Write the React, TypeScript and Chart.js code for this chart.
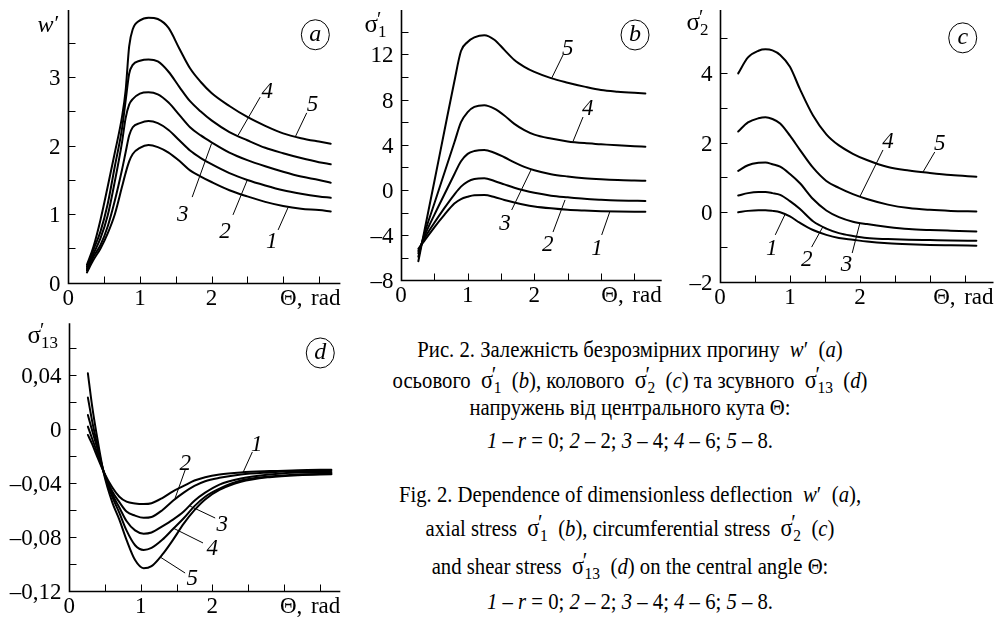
import React, { useEffect, useRef } from "react";
import { Chart, registerables } from "chart.js";

Chart.register(...registerables);

const SERIF = '"Liberation Serif", "Times New Roman", serif';

// ---------- Panel (a): w' ----------
const thetaA = [0.26, 0.35, 0.45, 0.55, 0.65, 0.75, 0.8, 0.85, 0.9, 1.0, 1.12, 1.25, 1.4, 1.55, 1.7, 1.85, 2.0, 2.25, 2.5, 2.75, 3.0, 3.25, 3.5, 3.665];
const wR0 = [0.15, 0.33, 0.5, 0.72, 1.0, 1.4, 1.6, 1.77, 1.88, 1.97, 2.01, 1.98, 1.9, 1.78, 1.64, 1.55, 1.47, 1.35, 1.26, 1.18, 1.12, 1.08, 1.06, 1.04];
const wR2 = [0.18, 0.38, 0.55, 0.82, 1.2, 1.65, 1.9, 2.15, 2.27, 2.33, 2.36, 2.33, 2.23, 2.08, 1.93, 1.82, 1.73, 1.6, 1.5, 1.42, 1.35, 1.3, 1.26, 1.24];
const wR4 = [0.2, 0.42, 0.65, 0.98, 1.48, 2.05, 2.4, 2.6, 2.68, 2.76, 2.78, 2.75, 2.63, 2.45, 2.27, 2.15, 2.05, 1.9, 1.79, 1.7, 1.62, 1.55, 1.5, 1.46];
const wR6 = [0.23, 0.48, 0.75, 1.15, 1.7, 2.25, 2.65, 3.05, 3.18, 3.24, 3.26, 3.23, 3.08, 2.86, 2.65, 2.5, 2.37, 2.2, 2.08, 1.97, 1.89, 1.82, 1.76, 1.73];
const wR8 = [0.26, 0.52, 0.92, 1.4, 1.9, 2.42, 2.8, 3.45, 3.7, 3.83, 3.87, 3.85, 3.72, 3.42, 3.13, 2.93, 2.77, 2.58, 2.42, 2.29, 2.18, 2.11, 2.06, 2.03];

// ---------- Panel (b): sigma'1 ----------
const thetaB = [0.26, 0.35, 0.5, 0.65, 0.8, 0.9, 1.0, 1.1, 1.25, 1.4, 1.55, 1.7, 1.85, 2.0, 2.25, 2.5, 2.75, 3.0, 3.25, 3.5, 3.665];
const s1R0 = [-5.2, -4.5, -3.3, -2.2, -1.2, -0.8, -0.6, -0.47, -0.45, -0.62, -0.88, -1.1, -1.3, -1.45, -1.62, -1.75, -1.82, -1.87, -1.9, -1.92, -1.93];
const s1R2 = [-5.4, -4.3, -2.9, -1.6, -0.4, 0.3, 0.75, 0.97, 1.03, 0.8, 0.5, 0.2, -0.05, -0.25, -0.5, -0.65, -0.78, -0.86, -0.92, -0.95, -0.97];
const s1R4 = [-5.6, -4.1, -2.2, -0.4, 1.4, 2.55, 3.2, 3.45, 3.55, 3.3, 2.9, 2.45, 2.05, 1.75, 1.4, 1.2, 1.05, 0.95, 0.88, 0.84, 0.82];
const s1R6 = [-5.9, -3.9, -1.2, 1.5, 4.2, 6.0, 6.9, 7.35, 7.5, 7.2, 6.6, 5.85, 5.3, 4.9, 4.55, 4.3, 4.15, 4.05, 3.95, 3.87, 3.83];
const s1R8 = [-6.3, -3.65, 0.75, 5.2, 9.6, 12.3, 13.1, 13.5, 13.7, 13.3, 12.4, 11.5, 10.9, 10.45, 9.9, 9.5, 9.15, 8.85, 8.7, 8.6, 8.55];

// ---------- Panel (c): sigma'2 ----------
const thetaC = [0.26, 0.4, 0.55, 0.65, 0.75, 0.86, 1.0, 1.14, 1.33, 1.52, 1.7, 1.9, 2.1, 2.4, 2.7, 3.0, 3.3, 3.665];
const s2R0 = [0, 0.04, 0.06, 0.06, 0.04, 0, -0.12, -0.3, -0.51, -0.65, -0.74, -0.79, -0.84, -0.89, -0.92, -0.94, -0.95, -0.96];
const s2R2 = [0.48, 0.55, 0.58, 0.58, 0.55, 0.5, 0.32, 0.1, -0.26, -0.47, -0.6, -0.68, -0.74, -0.77, -0.79, -0.8, -0.81, -0.82];
const s2R4 = [1.19, 1.35, 1.42, 1.43, 1.38, 1.31, 1.1, 0.84, 0.38, 0.05, -0.14, -0.27, -0.34, -0.42, -0.48, -0.51, -0.53, -0.55];
const s2R6 = [2.32, 2.58, 2.7, 2.73, 2.68, 2.55, 2.2, 1.8, 1.28, 0.9, 0.7, 0.52, 0.38, 0.22, 0.12, 0.07, 0.04, 0.02];
const s2R8 = [3.99, 4.45, 4.64, 4.68, 4.65, 4.52, 4.18, 3.55, 2.78, 2.24, 1.92, 1.68, 1.5, 1.3, 1.2, 1.13, 1.07, 1.02];

// ---------- Panel (d): sigma'13 ----------
const thetaD = [0.26, 0.32, 0.38, 0.48, 0.6, 0.7, 0.8, 0.92, 1.04, 1.15, 1.3, 1.45, 1.6, 1.75, 1.9, 2.1, 2.4, 2.8, 3.2, 3.665];
const s13R0 = [-0.0042, -0.011, -0.019, -0.0314, -0.043, -0.05, -0.0537, -0.055, -0.0554, -0.0548, -0.051, -0.046, -0.042, -0.038, -0.0355, -0.0335, -0.032, -0.031, -0.0303, -0.03];
const s13R2 = [0.002, -0.007, -0.016, -0.0314, -0.046, -0.054, -0.061, -0.064, -0.0656, -0.065, -0.06, -0.053, -0.047, -0.042, -0.0385, -0.036, -0.0335, -0.032, -0.031, -0.031];
const s13R4 = [0.0106, -0.001, -0.012, -0.0314, -0.048, -0.058, -0.068, -0.075, -0.0774, -0.0765, -0.072, -0.067, -0.061, -0.053, -0.047, -0.041, -0.0365, -0.0335, -0.032, -0.032];
const s13R6 = [0.0235, 0.006, -0.009, -0.0314, -0.05, -0.062, -0.075, -0.086, -0.0895, -0.088, -0.082, -0.074, -0.066, -0.057, -0.05, -0.044, -0.038, -0.035, -0.0335, -0.033];
const s13R8 = [0.0415, 0.017, -0.003, -0.032, -0.054, -0.067, -0.082, -0.097, -0.103, -0.1015, -0.093, -0.082, -0.07, -0.06, -0.052, -0.045, -0.039, -0.0355, -0.034, -0.0334];

// ---------- ticks & labels ----------
const xTickVals = [0.5, 1, 1.5, 2, 2.5, 3, 3.5];
const xLabelVals = [0, 1, 2];
const xLabelTexts = ["0", "1", "2"];
const xAxisTitleA = "Θ,";
const xAxisTitleB = "rad";

const aYTicks = [0.5, 1, 1.5, 2, 2.5, 3, 3.5];
const aYLabelVals = [0, 1, 2, 3];
const aYLabels = ["0", "1", "2", "3"];

const bYTicks = [-6, -4, -2, 0, 2, 4, 6, 8, 10, 12, 14];
const bYLabelVals = [-8, -4, 0, 4, 8, 12];
const bYLabels = ["–8", "–4", "0", "4", "8", "12"];

const cYTicks = [-1, 0, 1, 2, 3, 4, 5];
const cYLabelVals = [-2, 0, 2, 4];
const cYLabels = ["–2", "0", "2", "4"];

const dYTicks = [-0.1, -0.08, -0.06, -0.04, -0.02, 0, 0.02, 0.04, 0.06];
const dYLabelVals = [-0.12, -0.08, -0.04, 0, 0.04];
const dYLabels = ["–0,12", "–0,08", "–0,04", "0", "0,04"];

const curveNames = ["1", "2", "3", "4", "5"];

// annotations in data coordinates: [text x, text y, line x1, y1, x2, y2]
const aNotes = [
  [2.84, 0.62, 2.93, 0.77, 3.07, 1.1],
  [2.19, 0.77, 2.3, 0.99, 2.5, 1.5],
  [1.6, 1.02, 1.73, 1.25, 2.0, 2.03],
  [2.78, 2.81, 2.68, 2.71, 2.37, 2.15],
  [3.41, 2.62, 3.33, 2.48, 3.17, 2.13],
];
const bNotes = [
  [2.94, -5.04, 3.01, -3.98, 3.13, -1.95],
  [2.2, -4.69, 2.28, -3.72, 2.46, -0.88],
  [1.56, -2.83, 1.66, -1.77, 1.95, 1.78],
  [2.8, 7.35, 2.73, 6.46, 2.58, 4.3],
  [2.5, 12.65, 2.43, 11.95, 2.26, 9.9],
];
const cNotes = [
  [0.74, -1.0, 0.79, -0.65, 0.93, -0.06],
  [1.24, -1.32, 1.31, -1.0, 1.47, -0.42],
  [1.81, -1.45, 1.89, -1.17, 2.0, -0.31],
  [2.4, 2.07, 2.33, 1.79, 2.0, 0.45],
  [3.14, 2.02, 3.07, 1.73, 2.9, 1.15],
];
const dNotes = [
  [2.62, -0.0102, 2.56, -0.0168, 2.43, -0.032],
  [1.62, -0.0243, 1.62, -0.0302, 1.48, -0.051],
  [2.14, -0.0695, 2.04, -0.0658, 1.69, -0.057],
  [2.0, -0.0873, 1.87, -0.0843, 1.45, -0.0732],
  [1.72, -0.1096, 1.62, -0.1066, 1.27, -0.0947],
];

type PanelCfg = {
  id: string;
  x: number; y: number; w: number; h: number;
  pad: [number, number, number, number];
  xMax: number; yMin: number; yMax: number;
  theta: number[];
  series: number[][];
  yTicks: number[];
  yLabelVals: number[];
  yLabels: string[];
  title: { kind: "w" | "s"; sub: string; dx: number; dy: number };
  letter: string;
  letterPos: [number, number];
  notes: number[][];
};

const panels: PanelCfg[] = [
  {
    id: "a", x: 0, y: 0, w: 345, h: 312,
    pad: [68.3, 10.1, 4.6, 29.3],
    xMax: 3.8, yMin: 0, yMax: 3.98,
    theta: thetaA, series: [wR0, wR2, wR4, wR6, wR8],
    yTicks: aYTicks, yLabelVals: aYLabelVals, yLabels: aYLabels,
    title: { kind: "w", sub: "", dx: -31, dy: 22 },
    letter: "a", letterPos: [3.45, 3.62], notes: aNotes,
  },
  {
    id: "b", x: 345, y: 0, w: 320, h: 312,
    pad: [56, 10, 3.3, 31.6],
    xMax: 3.91, yMin: -8, yMax: 15.93,
    theta: thetaB, series: [s1R0, s1R2, s1R4, s1R6, s1R8],
    yTicks: bYTicks, yLabelVals: bYLabelVals, yLabels: bYLabels,
    title: { kind: "s", sub: "1", dx: -37, dy: 22 },
    letter: "b", letterPos: [3.51, 13.72], notes: bNotes,
  },
  {
    id: "c", x: 665, y: 0, w: 329, h: 312,
    pad: [55, 10, 0.5, 30.1],
    xMax: 3.91, yMin: -2, yMax: 5.81,
    theta: thetaC, series: [s2R0, s2R2, s2R4, s2R6, s2R8],
    yTicks: cYTicks, yLabelVals: cYLabelVals, yLabels: cYLabels,
    title: { kind: "s", sub: "2", dx: -34, dy: 20 },
    letter: "c", letterPos: [3.47, 5.01], notes: cNotes,
  },
  {
    id: "d", x: 0, y: 310, w: 345, h: 316,
    pad: [69.3, 13.3, 4.7, 34.9],
    xMax: 3.79, yMin: -0.12, yMax: 0.0786,
    theta: thetaD, series: [s13R0, s13R2, s13R4, s13R6, s13R8],
    yTicks: dYTicks, yLabelVals: dYLabelVals, yLabels: dYLabels,
    title: { kind: "s", sub: "13", dx: -42, dy: 20 },
    letter: "d", letterPos: [3.51, 0.0566], notes: dNotes,
  },
];

function drawDecor(chart: any, cfg: PanelCfg) {
  const ctx: CanvasRenderingContext2D = chart.ctx;
  const { left, right, top, bottom } = chart.chartArea;
  const xs = chart.scales.x;
  const ys = chart.scales.y;
  const L = Math.round(left) + 0.5;
  const B = Math.round(bottom) + 0.5;
  ctx.save();
  ctx.strokeStyle = "#000";
  ctx.fillStyle = "#000";
  // axes
  ctx.lineWidth = 1.6;
  ctx.beginPath();
  ctx.moveTo(L, top);
  ctx.lineTo(L, B);
  ctx.lineTo(right, B);
  ctx.stroke();
  // ticks (inward)
  ctx.lineWidth = 1;
  ctx.beginPath();
  for (const v of xTickVals) {
    const px = Math.round(xs.getPixelForValue(v)) + 0.5;
    ctx.moveTo(px, B);
    ctx.lineTo(px, B - 7);
  }
  for (const v of cfg.yTicks) {
    const py = Math.round(ys.getPixelForValue(v)) + 0.5;
    ctx.moveTo(L, py);
    ctx.lineTo(L + 7, py);
  }
  ctx.stroke();
  // tick labels
  ctx.font = `23px ${SERIF}`;
  ctx.textBaseline = "alphabetic";
  ctx.textAlign = "center";
  xLabelVals.forEach((v, i) => {
    ctx.fillText(xLabelTexts[i], xs.getPixelForValue(v), B + 21);
  });
  ctx.textAlign = "right";
  ctx.fillText(xAxisTitleB, right, B + 21);
  ctx.fillText(xAxisTitleA, right - 38, B + 21);
  cfg.yLabelVals.forEach((v, i) => {
    ctx.fillText(cfg.yLabels[i], L - 8, ys.getPixelForValue(v) + 8);
  });
  // axis title
  const tx = L + cfg.title.dx;
  const ty = top + cfg.title.dy;
  ctx.textAlign = "left";
  if (cfg.title.kind === "w") {
    ctx.font = `italic 24px ${SERIF}`;
    ctx.fillText("w", tx, ty);
    const ww = ctx.measureText("w").width;
    ctx.font = `22px ${SERIF}`;
    ctx.fillText("′", tx + ww + 1, ty - 2);
  } else {
    ctx.font = `25px ${SERIF}`;
    ctx.fillText("σ", tx, ty);
    const sw = ctx.measureText("σ").width;
    ctx.font = `20px ${SERIF}`;
    ctx.fillText("′", tx + sw - 1, ty - 6);
    ctx.font = `17px ${SERIF}`;
    ctx.fillText(cfg.title.sub, tx + sw, ty + 5);
  }
  // circled letter
  const cx = xs.getPixelForValue(cfg.letterPos[0]);
  const cy = ys.getPixelForValue(cfg.letterPos[1]);
  ctx.lineWidth = 1;
  ctx.beginPath();
  ctx.ellipse(cx, cy, 14, 15, 0, 0, Math.PI * 2);
  ctx.stroke();
  ctx.font = `italic 24px ${SERIF}`;
  ctx.textAlign = "center";
  ctx.fillText(cfg.letter, cx, cy + 6);
  // curve labels with leader lines
  ctx.font = `italic 23px ${SERIF}`;
  cfg.notes.forEach((n, i) => {
    const px = xs.getPixelForValue(n[0]);
    const py = ys.getPixelForValue(n[1]);
    ctx.fillText(curveNames[i], px, py + 8);
    ctx.beginPath();
    ctx.moveTo(xs.getPixelForValue(n[2]), ys.getPixelForValue(n[3]));
    ctx.lineTo(xs.getPixelForValue(n[4]), ys.getPixelForValue(n[5]));
    ctx.stroke();
  });
  ctx.restore();
}

function Panel({ cfg }: { cfg: PanelCfg }) {
  const ref = useRef<HTMLCanvasElement>(null);
  useEffect(() => {
    const canvas = ref.current;
    if (!canvas) return;
    const plugin = {
      id: "decor_" + cfg.id,
      afterDatasetsDraw(chart: any) {
        drawDecor(chart, cfg);
      },
    };
    const chart = new Chart(canvas, {
      type: "line",
      data: {
        datasets: cfg.series.map((ys) => ({
          data: cfg.theta.map((x, i) => ({ x, y: ys[i] })),
          borderColor: "#000",
          borderWidth: 2,
          pointRadius: 0,
          fill: false,
          cubicInterpolationMode: "monotone" as const,
          borderJoinStyle: "round" as const,
          borderCapStyle: "round" as const,
        })),
      },
      options: {
        animation: false,
        responsive: false,
        events: [],
        layout: { padding: { left: cfg.pad[0], top: cfg.pad[1], right: cfg.pad[2], bottom: cfg.pad[3] } },
        plugins: { legend: { display: false }, tooltip: { enabled: false } },
        scales: {
          x: { type: "linear", min: 0, max: cfg.xMax, display: false },
          y: { type: "linear", min: cfg.yMin, max: cfg.yMax, display: false },
        },
      },
      plugins: [plugin],
    });
    return () => chart.destroy();
  }, [cfg]);
  return (
    <canvas
      ref={ref}
      width={cfg.w}
      height={cfg.h}
      style={{ position: "absolute", left: cfg.x, top: cfg.y, width: cfg.w, height: cfg.h }}
    />
  );
}

function Sig({ s }: { s: string }) {
  return (
    <span style={{ position: "relative", whiteSpace: "nowrap", margin: "0 0.25em" }}>
      <span style={{ fontSize: "1.08em" }}>σ</span>
      <span style={{ position: "absolute", left: "0.52em", top: "-0.22em" }}>′</span>
      <span style={{ fontSize: "0.75em", position: "relative", top: "0.3em", marginLeft: "0.04em" }}>{s}</span>
    </span>
  );
}

const W = () => (
  <span style={{ margin: "0 0.25em" }}>
    <i>w</i>′
  </span>
);

const captionLines: { base: number; node: React.ReactNode }[] = [
  { base: 357, node: <>Рис. 2. Залежність безрозмірних прогину <W /> (<i>a</i>)</> },
  { base: 387, node: <>осьового <Sig s="1" /> (<i>b</i>), колового <Sig s="2" /> (<i>c</i>) та зсувного <Sig s="13" /> (<i>d</i>)</> },
  { base: 415, node: <>напружень від центрального кута Θ:</> },
  { base: 448, node: <><i>1</i> – <i>r</i> = 0; <i>2</i> – 2; <i>3</i> – 4; <i>4</i> – 6; <i>5</i> – 8.</> },
  { base: 502, node: <>Fig. 2. Dependence of dimensionless deflection <W /> (<i>a</i>),</> },
  { base: 535, node: <>axial stress <Sig s="1" /> (<i>b</i>), circumferential stress <Sig s="2" /> (<i>c</i>)</> },
  { base: 573, node: <>and shear stress <Sig s="13" /> (<i>d</i>) on the central angle Θ:</> },
  { base: 609, node: <><i>1</i> – <i>r</i> = 0; <i>2</i> – 2; <i>3</i> – 4; <i>4</i> – 6; <i>5</i> – 8.</> },
];

export default function App() {
  return (
    <div style={{ position: "absolute", left: 0, top: 0, width: 994, height: 626, background: "#fff", overflow: "hidden" }}>
      {panels.map((p) => (
        <Panel key={p.id} cfg={p} />
      ))}
      {captionLines.map((l, i) => (
        <div
          key={i}
          style={{
            position: "absolute",
            left: 330,
            width: 600,
            top: l.base - 19.3,
            textAlign: "center",
            fontFamily: SERIF,
            fontSize: 23,
            lineHeight: "23px",
            whiteSpace: "nowrap",
            color: "#000",
            transform: "scaleX(0.9)",
            transformOrigin: "300px 0",
          }}
        >
          {l.node}
        </div>
      ))}
    </div>
  );
}
